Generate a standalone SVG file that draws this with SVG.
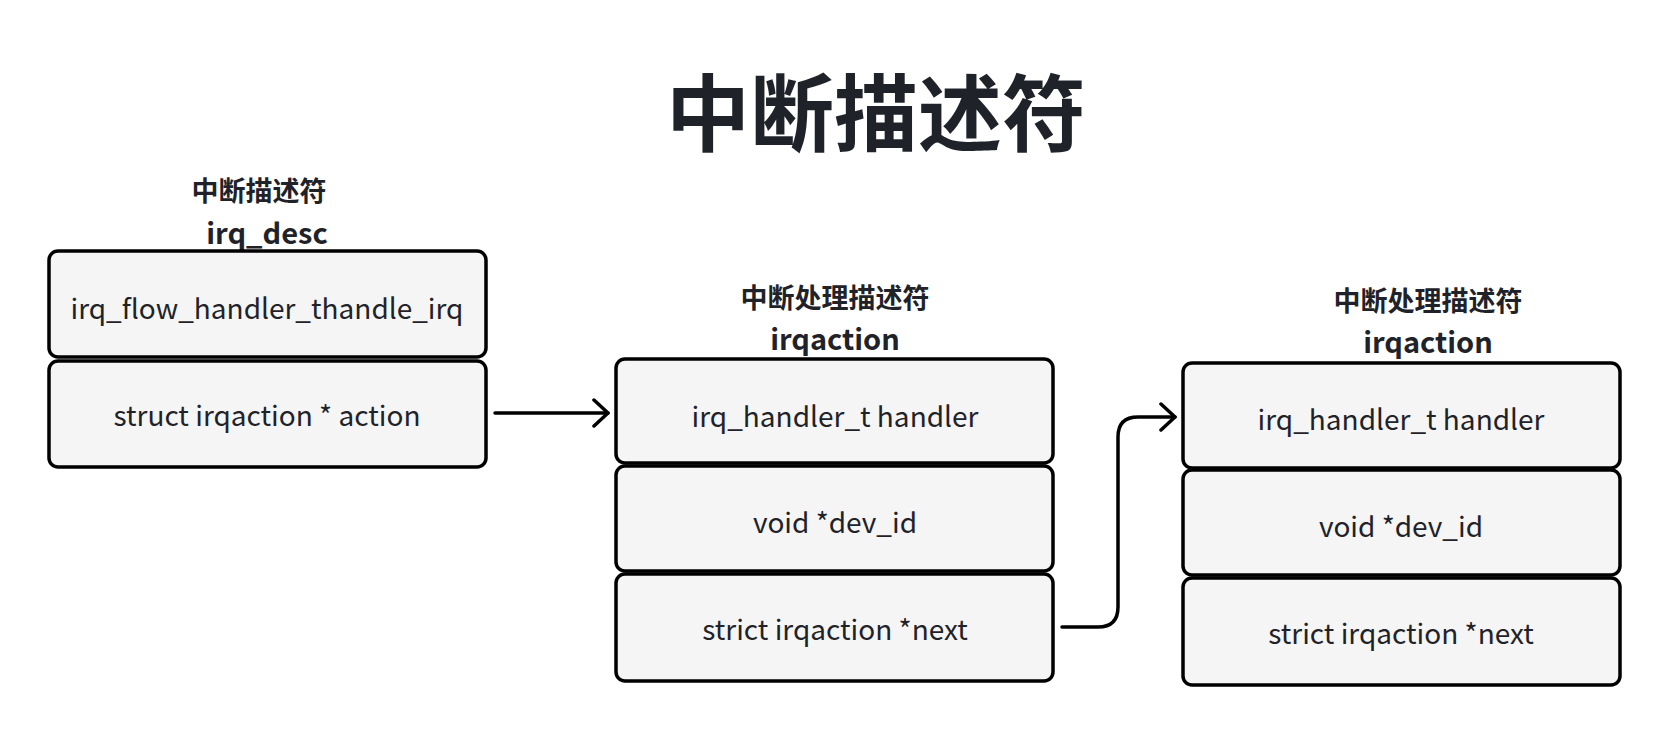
<svg xmlns="http://www.w3.org/2000/svg" width="1670" height="736" viewBox="0 0 1670 736">
<defs>
<style>
.row{fill:#f5f5f5;stroke:#000;stroke-width:3.5}
.t{font-family:"Noto Sans CJK SC","Noto Sans",sans-serif;fill:#1f2329;text-anchor:middle}
.body{font-size:28px}
.hz{font-size:27px;font-weight:bold}
.hl{font-size:29px;font-weight:bold}
.conn{fill:none;stroke:#000;stroke-width:3.5;stroke-linecap:round;stroke-linejoin:round}
</style>
<marker id="arr" viewBox="-18 -15 20 30" markerWidth="20" markerHeight="30" refX="0" refY="0" orient="auto" markerUnits="userSpaceOnUse">
<path d="M-14,-13 L0,0 L-14,13" fill="none" stroke="#000" stroke-width="3.5" stroke-linecap="round" stroke-linejoin="round"/>
</marker>
</defs>
<rect width="1670" height="736" fill="#fff"/>
<text class="t" x="876" y="145" style="font-size:84px;font-weight:bold">中断描述符</text>

<g id="irq_desc">
<text class="t hz" x="259" y="201">中断描述符</text>
<text class="t hl" x="267" y="244">irq_desc</text>
<rect class="row" x="49" y="251" width="437" height="106" rx="9"/>
<text class="t body" x="267" y="319">irq_flow_handler_thandle_irq</text>
<rect class="row" x="49" y="361" width="437" height="106" rx="9"/>
<text class="t body" x="267" y="426">struct irqaction * action</text>
</g>

<g id="irqaction1">
<text class="t hz" x="835" y="308">中断处理描述符</text>
<text class="t hl" x="835" y="350">irqaction</text>
<rect class="row" x="616" y="359" width="437" height="104" rx="9"/>
<text class="t body" x="835" y="427">irq_handler_t handler</text>
<rect class="row" x="616" y="466" width="437" height="105" rx="9"/>
<text class="t body" x="835" y="533">void *dev_id</text>
<rect class="row" x="616" y="574" width="437" height="107" rx="9"/>
<text class="t body" x="835" y="640">strict irqaction *next</text>
</g>

<g id="irqaction2">
<text class="t hz" x="1428" y="311">中断处理描述符</text>
<text class="t hl" x="1428" y="353">irqaction</text>
<rect class="row" x="1183" y="363" width="437" height="105" rx="9"/>
<text class="t body" x="1401" y="430">irq_handler_t handler</text>
<rect class="row" x="1183" y="470" width="437" height="105" rx="9"/>
<text class="t body" x="1401" y="537">void *dev_id</text>
<rect class="row" x="1183" y="578" width="437" height="107" rx="9"/>
<text class="t body" x="1401" y="644">strict irqaction *next</text>
</g>

<g id="connectors">
<path class="conn" d="M495,413 H608" marker-end="url(#arr)"/>
<path class="conn" d="M1062,627 H1098 Q1118,627 1118,607 V437 Q1118,417 1138,417 H1175" marker-end="url(#arr)"/>
</g>
</svg>
